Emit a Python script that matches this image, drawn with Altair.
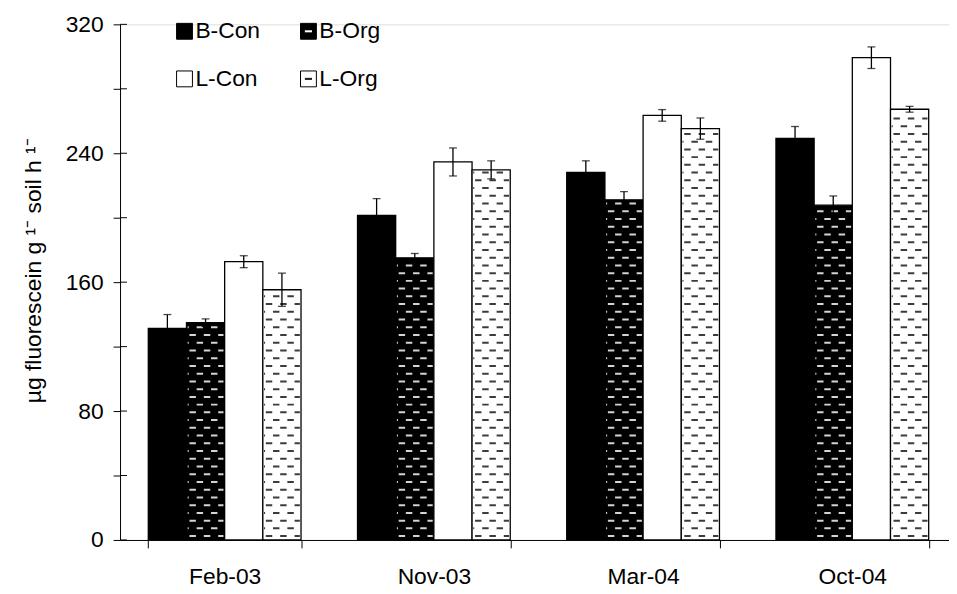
import altair as alt
import pandas as pd

# ---------------- data ----------------
categories = ["Feb-03", "Nov-03", "Mar-04", "Oct-04"]
series = ["B-Con", "B-Org", "L-Con", "L-Org"]

b_con = [131.3, 201.4, 228.1, 249.2]
b_con_err = [8.6, 10.5, 7.2, 7.4]
b_org = [134.8, 175.1, 211.1, 207.8]
b_org_err = [2.4, 2.7, 5.1, 5.7]
l_con = [172.7, 234.6, 263.5, 299.3]
l_con_err = [3.7, 8.7, 3.6, 6.7]
l_org = [155.3, 229.7, 255.3, 267.3]
l_org_err = [10.3, 5.6, 6.6, 1.8]

y_ticks = [0, 40, 80, 120, 160, 200, 240, 280, 320]
y_title = "µg fluorescein g ¹⁻ soil h ¹⁻"

values = [b_con, b_org, l_con, l_org]
errors = [b_con_err, b_org_err, l_con_err, l_org_err]
rows = []
for s, vals, errs in zip(series, values, errors):
    for c, v, e in zip(categories, vals, errs):
        rows.append({"category": c, "series": s, "value": v, "err": e})
df = pd.DataFrame(rows)
ticks_df = pd.DataFrame({"t": y_ticks})
legend_df = pd.DataFrame({"series": series})

# ---------------- layout / style ----------------
FONT = "Liberation Sans"
FS = 23
RANGE_W = 844
VISIBLE_W = 836
PLOT_H = 520
P_IN = 0.27
P_OUT = 0.135
BAR_W = RANGE_W / 4 * (1 - P_IN) / 4
ROW_STEP = 4.8          # pattern row spacing in data units
PERIOD = 14.5           # px
DASH = 6.5              # px
THICK = 2.0             # px


def dash_row(offset_px):
    half = BAR_W / 2
    parts = []
    x = offset_px - PERIOD
    while x < BAR_W:
        a = max(x, 1.2)
        b = min(x + DASH, BAR_W - 1.2)
        if b - a > 0.8:
            ua = a / half - 1
            ub = b / half - 1
            t = THICK / 2 / half
            parts.append(f"M{ua:.3f},{-t:.3f}H{ub:.3f}V{t:.3f}H{ua:.3f}Z")
        x += PERIOD
    return "".join(parts)


row_a = dash_row(3.0)
row_b = dash_row(3.0 + PERIOD / 2)

x_scale = alt.Scale(domain=categories, range=[0, RANGE_W],
                    paddingInner=P_IN, paddingOuter=P_OUT)
xo_scale = alt.Scale(domain=series, paddingInner=0, paddingOuter=0)
y_scale = alt.Scale(domain=[0, 320], nice=False, zero=True)

x_axis = alt.Axis(title=None, tickBand="extent", tickSize=8, tickColor="black",
                  tickWidth=1, domainColor="black", domainWidth=1,
                  labelFont=FONT, labelFontSize=FS, labelColor="black",
                  labelPadding=18, labelAngle=0)
y_axis = alt.Axis(values=y_ticks,
                  labelExpr="datum.value % 80 == 0 ? datum.label : ''",
                  tickSize=7, tickColor="black", tickWidth=1,
                  domainColor="black", domainWidth=1, grid=False,
                  labelFont=FONT, labelFontSize=FS, labelColor="black",
                  labelPadding=10,
                  title=y_title, titleFont=FONT, titleFontSize=FS,
                  titleFontWeight="normal", titleColor="black",
                  titleAngle=270, titleAlign="center", titleBaseline="middle",
                  titleX=-87, titleY=248)

X = alt.X("category:N", scale=x_scale, axis=x_axis)
XO = alt.XOffset("series:N", scale=xo_scale)

base = alt.Chart(df)

bars = base.mark_bar(stroke="black", strokeWidth=1.3).encode(
    x=X,
    xOffset=XO,
    y=alt.Y("value:Q", scale=y_scale, axis=y_axis, title=y_title),
    fill=alt.Fill("series:N", scale=alt.Scale(domain=series,
                  range=["black", "black", "white", "white"]), legend=None),
)

pattern = base.transform_filter(
    "indexof(['B-Org','L-Org'], datum.series) >= 0"
).transform_calculate(
    ks=f"sequence(0, ceil(datum.value / {ROW_STEP}))"
).transform_flatten(["ks"]).transform_calculate(
    ypos=f"{ROW_STEP / 2} + datum.ks * {ROW_STEP}",
    parity="datum.ks % 2 == 0 ? 'a' : 'b'",
    pcolor="datum.series == 'B-Org' ? '#d4d4d4' : '#3c3c3c'",
).transform_filter(
    "datum.ypos <= datum.value - 1.3"
).mark_point(filled=True, size=BAR_W ** 2, strokeWidth=0, opacity=1).encode(
    x=X,
    xOffset=XO,
    y=alt.Y("ypos:Q", scale=y_scale, title=y_title),
    shape=alt.Shape("parity:N", scale=alt.Scale(domain=["a", "b"],
                    range=[row_a, row_b]), legend=None),
    fill=alt.Fill("pcolor:N", scale=None),
)

err_base = base.transform_calculate(
    lo="datum.value - datum.err", hi="datum.value + datum.err")

err_rule = err_base.mark_rule(color="black", strokeWidth=1.3).encode(
    x=X, xOffset=XO,
    y=alt.Y("lo:Q", scale=y_scale, title=y_title),
    y2="hi:Q",
)
err_caps = err_base.transform_fold(["lo", "hi"], as_=["end", "ev"]).mark_tick(
    color="black", orient="horizontal", size=8, thickness=1.3
).encode(
    x=X, xOffset=XO,
    y=alt.Y("ev:Q", scale=y_scale, title=y_title),
)

tick_right = alt.Chart(ticks_df).mark_rule(color="black", strokeWidth=1).encode(
    y=alt.Y("t:Q", scale=y_scale, title=y_title),
    x=alt.value(0), x2=alt.value(7),
)

leg_base = alt.Chart(legend_df).transform_window(
    idx="row_number()"
).transform_calculate(
    px="65 + ((datum.idx - 1) % 2) * 125",
    py="7 + floor((datum.idx - 1) / 2) * 48",
    tx="datum.px + 11",
)

leg_sq = leg_base.mark_square(size=256, stroke="black", strokeWidth=1,
                              opacity=1).encode(
    x=alt.X("px:Q", scale=None),
    y=alt.Y("py:Q", scale=None),
    fill=alt.Fill("series:N", scale=alt.Scale(domain=series,
                  range=["black", "black", "white", "white"]), legend=None),
)
leg_dash = leg_base.transform_filter(
    "indexof(['B-Org','L-Org'], datum.series) >= 0"
).transform_calculate(
    dcolor="datum.series == 'B-Org' ? '#ffffff' : '#222222'"
).mark_point(shape="M-0.45,-0.13H0.45V0.13H-0.45Z", filled=True, size=256,
             strokeWidth=0, opacity=1).encode(
    x=alt.X("px:Q", scale=None),
    y=alt.Y("py:Q", scale=None),
    fill=alt.Fill("dcolor:N", scale=None),
)
leg_text = leg_base.mark_text(align="left", baseline="middle", font=FONT,
                              fontSize=FS, color="black").encode(
    x=alt.X("tx:Q", scale=None),
    y=alt.Y("py:Q", scale=None),
    text="series:N",
)

chart = alt.layer(
    bars, pattern, err_rule, err_caps, tick_right, leg_sq, leg_dash, leg_text
).properties(
    width=VISIBLE_W,
    height=PLOT_H,
    autosize=alt.AutoSizeParams(type="none"),
    padding={"left": 113, "top": 14, "right": 0, "bottom": 52},
).configure_view(stroke=None).configure(background="white")

chart.save("out.html", embed_options={"renderer": "svg", "actions": False})
